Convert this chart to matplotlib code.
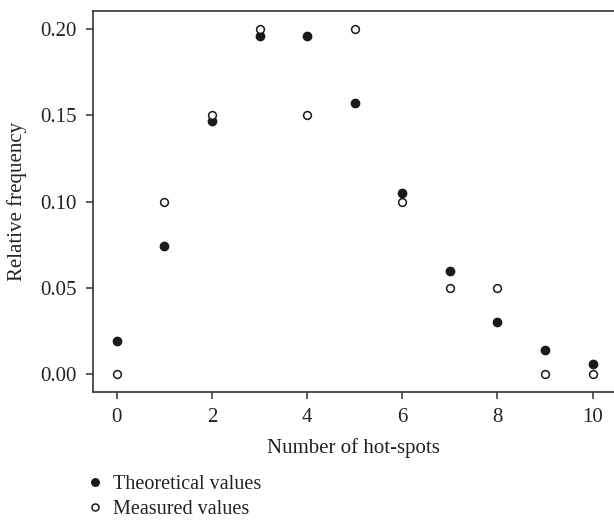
import numpy as np
from matplotlib import pyplot as plt

# hot-spot counts and relative frequencies
hot_spots = [0, 1, 2, 3, 4, 5, 6, 7, 8, 9, 10]
theoretical = [0.019, 0.074, 0.147, 0.196, 0.196, 0.157, 0.105, 0.060, 0.030, 0.014, 0.006]
measured = [0.00, 0.10, 0.15, 0.20, 0.15, 0.20, 0.10, 0.05, 0.05, 0.00, 0.00]
x_ticks = [0, 2, 4, 6, 8, 10]
y_ticks = [0.00, 0.05, 0.10, 0.15, 0.20]

plt.rcParams['font.family'] = ['Liberation Serif', 'DejaVu Serif']
plt.rcParams['font.size'] = 15

fig = plt.figure(figsize=(6.14, 5.21), dpi=100)
ax = fig.add_axes([0.1515, 0.2482, 0.8485, 0.7301])

ax.plot(hot_spots, theoretical, 'o', color='#1a1a1a', markersize=6, linestyle='none',
        label='Theoretical values')
ax.plot(hot_spots, measured, 'o', markerfacecolor='white', markeredgecolor='#1a1a1a',
        markeredgewidth=1.1, markersize=5.6, linestyle='none', label='Measured values')

ax.set_xlim(-0.5, 10.45)
ax.set_ylim(-0.0103, 0.2104)
ax.set_xticks(x_ticks)
ax.set_yticks(y_ticks)
ax.set_yticklabels(['%.2f' % v for v in y_ticks])

ax.spines['right'].set_visible(False)
for s in ['left', 'top', 'bottom']:
    ax.spines[s].set_linewidth(1.2)
    ax.spines[s].set_color('#333333')
ax.tick_params(axis='both', length=5, width=1.1, color='#333333', pad=7,
               labelcolor='#222222')

ax.set_xlabel('Number of hot-spots', color='#222222', labelpad=8)
ax.set_ylabel('Relative frequency', color='#222222', labelpad=9)

leg = ax.legend(loc='upper left', bbox_to_anchor=(0.128, 0.108),
                bbox_transform=fig.transFigure, frameon=False, fontsize=14.5,
                handlelength=0.6, handletextpad=0.6, labelspacing=0.3,
                borderpad=0, markerscale=0.9)
for t in leg.get_texts():
    t.set_color('#222222')

plt.savefig('out.png', dpi=100)
